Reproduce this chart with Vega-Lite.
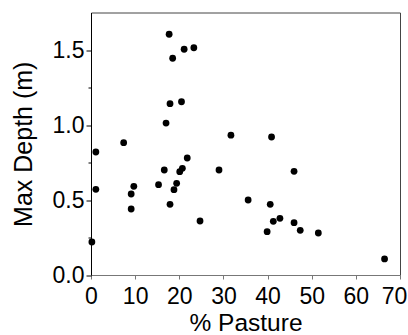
{
  "$schema": "https://vega.github.io/schema/vega-lite/v6.json",
  "width": 309,
  "height": 262.5,
  "autosize": {"type": "none"},
  "padding": {"left": 91, "top": 12.5, "right": 8, "bottom": 60},
  "background": "white",
  "config": {
    "view": {"stroke": "#444", "strokeWidth": 1},
    "axis": {
      "labelFont": "Liberation Sans",
      "titleFont": "Liberation Sans",
      "labelColor": "black",
      "titleColor": "black",
      "titleFontWeight": "normal",
      "grid": false
    }
  },
  "data": {
    "values": [
      {"pasture": 17.7, "depth": 1.605},
      {"pasture": 21.1, "depth": 1.505},
      {"pasture": 23.3, "depth": 1.515},
      {"pasture": 18.5, "depth": 1.445},
      {"pasture": 17.9, "depth": 1.142},
      {"pasture": 20.5, "depth": 1.155},
      {"pasture": 17.0, "depth": 1.013},
      {"pasture": 31.7, "depth": 0.932},
      {"pasture": 7.4, "depth": 0.882},
      {"pasture": 1.1, "depth": 0.82},
      {"pasture": 21.8, "depth": 0.78},
      {"pasture": 16.6, "depth": 0.70},
      {"pasture": 20.7, "depth": 0.711},
      {"pasture": 20.1, "depth": 0.689},
      {"pasture": 29.0, "depth": 0.70},
      {"pasture": 9.7, "depth": 0.591},
      {"pasture": 9.1, "depth": 0.54},
      {"pasture": 15.3, "depth": 0.602},
      {"pasture": 19.4, "depth": 0.611},
      {"pasture": 18.8, "depth": 0.569},
      {"pasture": 1.1, "depth": 0.571},
      {"pasture": 17.9, "depth": 0.471},
      {"pasture": 9.1, "depth": 0.44},
      {"pasture": 24.7, "depth": 0.36},
      {"pasture": 0.2, "depth": 0.22},
      {"pasture": 40.9, "depth": 0.92},
      {"pasture": 46.0, "depth": 0.691},
      {"pasture": 35.6, "depth": 0.50},
      {"pasture": 40.6, "depth": 0.471},
      {"pasture": 41.3, "depth": 0.358},
      {"pasture": 42.8, "depth": 0.378},
      {"pasture": 39.9, "depth": 0.289},
      {"pasture": 46.0, "depth": 0.349},
      {"pasture": 47.4, "depth": 0.298},
      {"pasture": 51.5, "depth": 0.28},
      {"pasture": 66.5, "depth": 0.107}
    ]
  },
  "mark": {"type": "circle", "color": "black", "size": 46, "opacity": 1},
  "encoding": {
    "x": {
      "field": "pasture",
      "type": "quantitative",
      "scale": {"domain": [0, 70], "nice": false, "zero": false},
      "axis": {
        "title": "% Pasture",
        "values": [0, 10, 20, 30, 40, 50, 60, 70],
        "format": "d",
        "domainColor": "#777",
        "tickColor": "#777",
        "tickSize": 4,
        "labelFontSize": 23,
        "labelBaseline": "alphabetic",
        "labelPadding": 24,
        "labelOffset": {"condition": {"test": "datum.value === 70", "value": -6}, "value": 0},
        "labelFlush": false,
        "labelOverlap": false,
        "titleFontSize": 24.5,
        "titleBaseline": "alphabetic",
        "titleY": 55
      }
    },
    "y": {
      "field": "depth",
      "type": "quantitative",
      "scale": {"domain": [0, 1.75], "nice": false, "zero": true},
      "axis": {
        "title": "Max Depth (m)",
        "values": [0, 0.25, 0.5, 0.75, 1, 1.25, 1.5],
        "labelExpr": "datum.value % 0.5 === 0 ? format(datum.value, '.1f') : ''",
        "domainColor": "black",
        "tickColor": "black",
        "tickSize": {"condition": {"test": "datum.value % 0.5 === 0", "value": 5}, "value": 3},
        "labelFontSize": 23,
        "labelPadding": 2,
        "labelFlush": false,
        "labelOverlap": false,
        "titleFontSize": 25,
        "titleBaseline": "alphabetic",
        "titleX": -60
      }
    }
  }
}
